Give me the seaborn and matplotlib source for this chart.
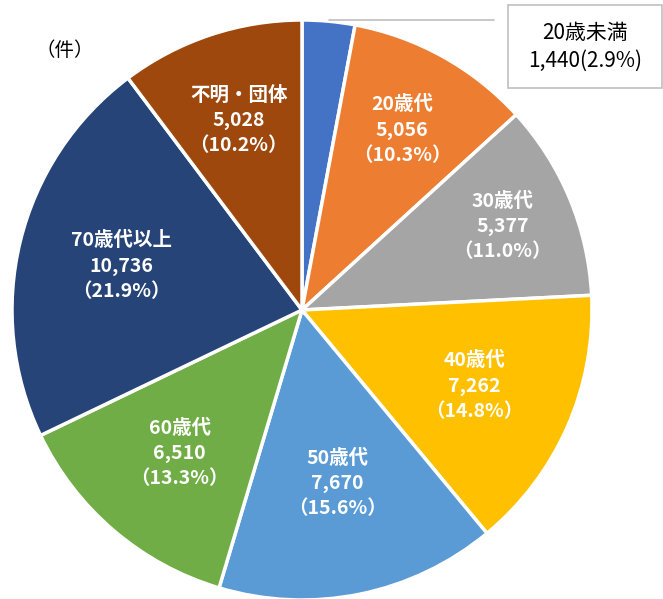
import numpy as np
import matplotlib
matplotlib.use("Agg")
import matplotlib.pyplot as plt
from matplotlib.patches import Rectangle
import seaborn as sns

categories = ["20歳未満", "20歳代", "30歳代", "40歳代", "50歳代", "60歳代", "70歳代以上", "不明・団体"]
counts = [1440, 5056, 5377, 7262, 7670, 6510, 10736, 5028]
shares = [2.9, 10.3, 11.0, 14.8, 15.6, 13.3, 21.9, 10.2]
colors = ["#4472C4", "#ED7D31", "#A5A5A5", "#FFC000", "#5B9BD5", "#70AD47", "#264478", "#9E480E"]

sns.set_theme(style="white")
plt.rcParams['font.family'] = ['Noto Sans CJK JP', 'DejaVu Sans']

fig = plt.figure(figsize=(6.63, 5.99), dpi=100)
ax = fig.add_axes([0, 0, 1, 1])

cx, cy, R = 302, 289, 290
wedges, _ = ax.pie(counts, colors=colors, startangle=90, counterclock=False,
                   radius=R, center=(cx, cy),
                   wedgeprops=dict(edgecolor='white', linewidth=2.5))
ax.set_xlim(0, 663)
ax.set_ylim(0, 599)
ax.set_aspect('equal')
ax.axis('off')

# labels inside the slices (skip the first, it gets a callout)
dist = [0, 0.71, 0.75, 0.65, 0.61, 0.65, 0.64, 0.69]
for i, w in enumerate(wedges):
    if i == 0:
        continue
    ang = np.deg2rad((w.theta1 + w.theta2) / 2)
    x = cx + dist[i] * R * np.cos(ang)
    y = cy + dist[i] * R * np.sin(ang)
    txt = f"{categories[i]}\n{counts[i]:,}\n（{shares[i]:.1f}%）"
    ax.text(x, y, txt, ha='center', va='center', color='white',
            fontsize=14, fontweight='bold', linespacing=1.42)

# callout for the small slice
ax.plot([329, 494], [579, 579], color='#BFBFBF', lw=1.2)
ax.add_patch(Rectangle((508, 511), 154, 83, fc='white', ec='#BFBFBF', lw=1.2))
ax.text(585, 552, f"{categories[0]}\n{counts[0]:,}({shares[0]:.1f}%)",
        ha='center', va='center', fontsize=15, color='black', linespacing=1.3)

ax.text(65, 549, "（件）", ha='center', va='center', fontsize=14, color='black')

fig.savefig("out.png", dpi=100)
